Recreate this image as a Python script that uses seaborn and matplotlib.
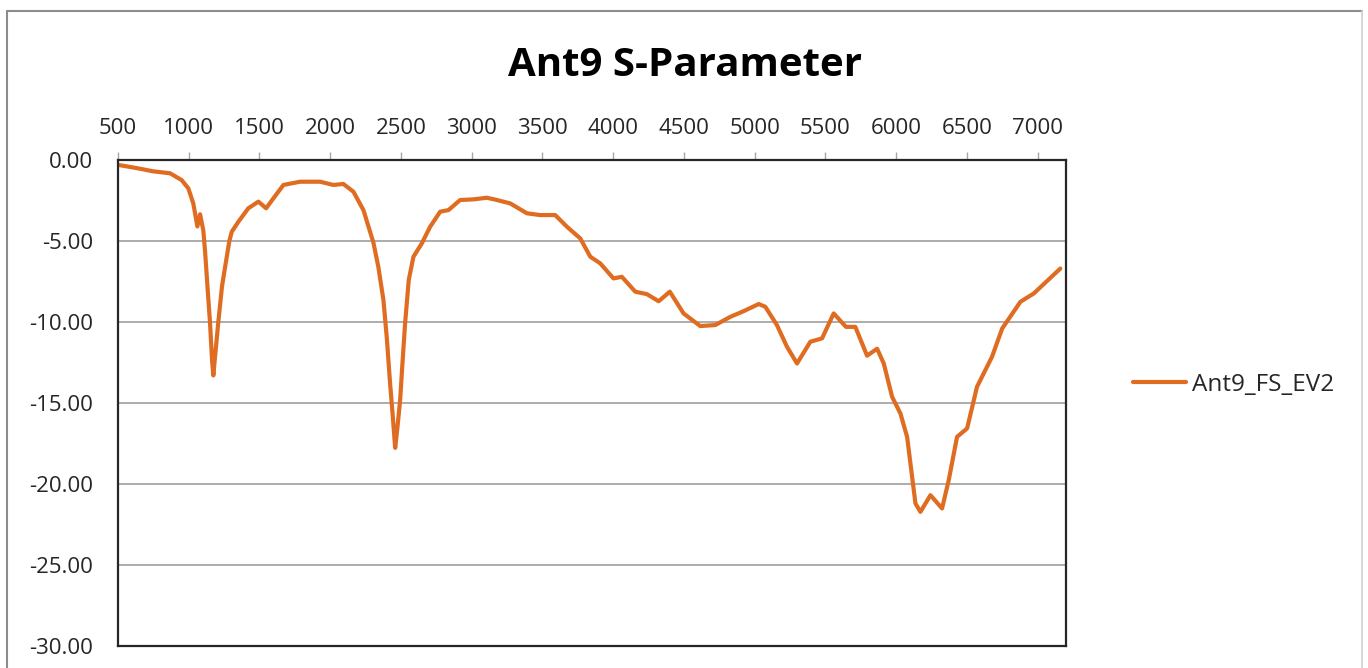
import matplotlib
matplotlib.use("Agg")
import matplotlib.pyplot as plt
from matplotlib.lines import Line2D
from matplotlib.ticker import FormatStrFormatter
import pandas as pd
import seaborn as sns

# Frequency sweep (MHz) and measured S11 (dB)
freq_mhz = [500, 632, 750, 868, 950, 997, 1032, 1061, 1080, 1103, 1115, 1139,
            1150, 1165, 1174, 1183, 1209, 1235, 1257, 1287, 1304, 1351, 1421,
            1492, 1547, 1598, 1669, 1787, 1928, 2022, 2093, 2164, 2235, 2305,
            2340, 2376, 2400, 2423, 2440, 2459, 2475, 2494, 2510, 2529, 2555,
            2588, 2647, 2706, 2777, 2836, 2918, 3012, 3107, 3178, 3272, 3390,
            3484, 3590, 3673, 3767, 3838, 3908, 4002, 4061, 4156, 4238, 4321,
            4400, 4497, 4615, 4721, 4828, 4922, 5028, 5075, 5157, 5228, 5299,
            5393, 5476, 5558, 5645, 5711, 5794, 5865, 5912, 5971, 6030, 6077,
            6136, 6171, 6242, 6324, 6371, 6430, 6501, 6571, 6677, 6749, 6878,
            6972, 7160]
s11_db = [-0.30, -0.50, -0.70, -0.82, -1.24, -1.75, -2.68, -4.10, -3.35, -4.35,
          -5.60, -8.65, -10.00, -12.40, -13.30, -12.40, -10.00, -7.80, -6.60,
          -5.00, -4.43, -3.81, -2.98, -2.57, -2.98, -2.37, -1.54, -1.34, -1.34,
          -1.54, -1.48, -1.96, -3.10, -5.10, -6.60, -8.65, -11.00, -13.80,
          -15.60, -17.77, -16.50, -14.82, -12.60, -10.09, -7.40, -5.97, -5.15,
          -4.12, -3.19, -3.09, -2.47, -2.43, -2.33, -2.47, -2.68, -3.29, -3.40,
          -3.40, -4.12, -4.84, -5.97, -6.38, -7.31, -7.21, -8.13, -8.28, -8.72,
          -8.13, -9.47, -10.25, -10.19, -9.68, -9.33, -8.89, -9.06, -10.19,
          -11.53, -12.56, -11.22, -11.01, -9.47, -10.30, -10.30, -12.08, -11.65,
          -12.56, -14.62, -15.65, -17.09, -21.20, -21.72, -20.69, -21.51, -19.77,
          -17.09, -16.57, -14.00, -12.15, -10.40, -8.75, -8.24, -6.70]
series_name = "Ant9_FS_EV2"
title_text = "Ant9 S-Parameter"
x_ticks = list(range(500, 7001, 500))
y_ticks = [0, -5, -10, -15, -20, -25, -30]

sns.set_style("white")
plt.rcParams["font.family"] = ["Open Sans", "DejaVu Sans"]
plt.rcParams["axes.unicode_minus"] = False

df = pd.DataFrame({"Frequency": freq_mhz, "S11": s11_db, "Series": series_name})

W, H = 1368, 668
fig = plt.figure(figsize=(W / 100, H / 100), dpi=100)
fig.patch.set_facecolor("white")
ax = fig.add_axes([118 / W, 1 - 646 / H, (1066 - 118) / W, (646 - 160) / H])

line_color = "#DF6C21"
sns.lineplot(data=df, x="Frequency", y="S11", hue="Series", palette=[line_color],
             estimator=None, sort=False, linewidth=3, ax=ax, legend=False)
for ln in ax.lines:
    ln.set_solid_joinstyle("round")
    ln.set_solid_capstyle("round")

ax.set_xlim(500, 7200)
ax.set_ylim(-30, 0)
ax.set_xticks(x_ticks)
ax.set_yticks(y_ticks)
ax.yaxis.set_major_formatter(FormatStrFormatter("%.2f"))
ax.xaxis.tick_top()
ax.set_xlabel("")
ax.set_ylabel("")

ax.grid(axis="y", color="#a6a6a6", linewidth=1.3)
ax.grid(axis="x", visible=False)
ax.set_axisbelow(True)
for sp in ax.spines.values():
    sp.set_visible(True)
    sp.set_color("#262626")
    sp.set_linewidth(1.6)

ax.tick_params(axis="x", which="major", direction="out", length=6, width=1,
               color="#a6a6a6", labelsize=16, labelcolor="#262626", pad=9,
               top=True, bottom=False)
ax.tick_params(axis="y", which="major", direction="out", length=6, width=1,
               color="#a6a6a6", labelsize=16, labelcolor="#262626", pad=12)

fig.text(685 / W, 1 - 65 / H, title_text, ha="center", va="center",
         fontsize=29, fontweight="bold", color="#000000")

handle = Line2D([], [], color=line_color, linewidth=3)
fig.legend([handle], [series_name], loc="center left",
           bbox_to_anchor=(1111 / W, 1 - 385 / H), frameon=False,
           fontsize=17.5, handlelength=2.2, handletextpad=0.25,
           labelcolor="#262626")

# chart-area frame
fig.add_artist(Line2D([7 / W, 1362 / W], [1 - 11 / H, 1 - 11 / H],
                      transform=fig.transFigure, color="#8c8c8c", linewidth=1.5))
fig.add_artist(Line2D([7 / W, 7 / W], [0, 1 - 11 / H],
                      transform=fig.transFigure, color="#8c8c8c", linewidth=1.5))
fig.add_artist(Line2D([1362 / W, 1362 / W], [0, 1 - 11 / H],
                      transform=fig.transFigure, color="#d0d0d0", linewidth=1.2))

fig.savefig("out.png", dpi=100)
